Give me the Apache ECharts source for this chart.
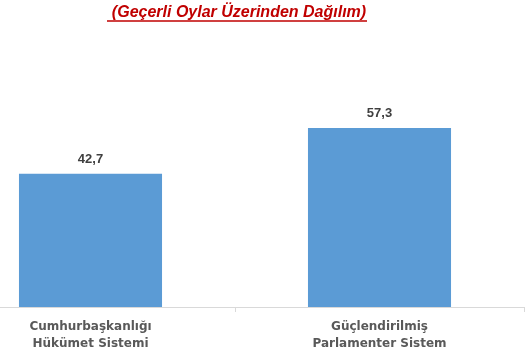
<!DOCTYPE html>
<html><head><meta charset="utf-8">
<script src="https://cdn.jsdelivr.net/npm/echarts@6/dist/echarts.min.js"></script>
<style>html,body{margin:0;padding:0;background:#fff;overflow:hidden;width:530px;height:362px}#c{position:absolute;left:-54px;top:0;width:584px;height:362px}</style>
</head><body><div id="c"></div>
<script>
const titleText = '(Geçerli Oylar Üzerinden Dağılım)';
const categories = ['Cumhurbaşkanlığı\nHükümet Sistemi', 'Güçlendirilmiş\nParlamenter Sistem'];
const values = [42.7, 57.3];
const OFF = 54;

const chart = echarts.init(document.getElementById('c'), null, {renderer: 'canvas'});
chart.setOption({
  animation: false,
  title: {
    text: titleText, left: 234 + OFF, top: 0, textAlign: 'center',
    textStyle: {color: '#C00000', fontFamily: 'Liberation Sans', fontWeight: 'bold', fontStyle: 'italic', fontSize: 16}
  },
  graphic: [{
    type: 'line', shape: {x1: 107 + OFF, y1: 21, x2: 367 + OFF, y2: 21},
    style: {stroke: '#C00000', lineWidth: 1.5}
  }],
  grid: {left: 0, right: 6, top: 26, bottom: 55, containLabel: false},
  xAxis: {
    type: 'category', data: categories,
    axisLine: {lineStyle: {color: '#D9D9D9', width: 1}},
    axisTick: {show: true, length: 5, lineStyle: {color: '#D9D9D9'}},
    axisLabel: {color: '#595959', fontFamily: 'DejaVu Sans', fontWeight: 'bold', fontSize: 12, lineHeight: 17, margin: 11, interval: 0}
  },
  yAxis: {type: 'value', min: 0, max: 90, show: false, splitLine: {show: false}},
  series: [{
    type: 'bar', data: values, barWidth: '49.5%',
    itemStyle: {color: '#5B9BD5'},
    label: {show: true, position: 'top', distance: 8, color: '#404040', fontFamily: 'Liberation Sans', fontWeight: 'bold', fontSize: 13,
      formatter: p => String(p.value).replace('.', ',')}
  }]
});
</script></body></html>
